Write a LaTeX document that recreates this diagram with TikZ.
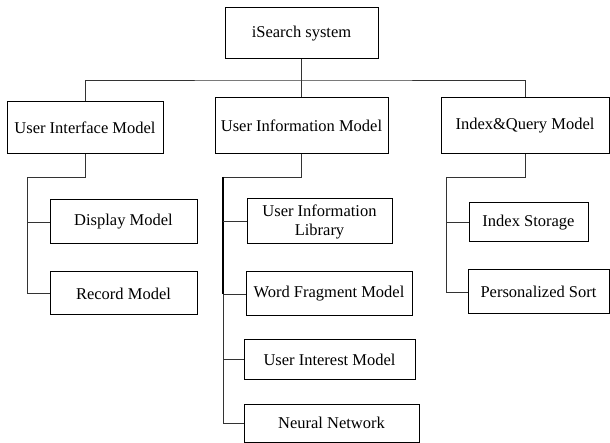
\documentclass[tikz,border=0pt]{standalone}
\usepackage{fontspec}
\setmainfont{Liberation Serif}
\begin{document}
\begin{tikzpicture}[x=1pt,y=-1pt,
  box/.style={draw=black,line width=1pt,inner sep=0pt,align=center,
    font=\fontsize{16.5}{19}\selectfont},
  link/.style={draw=black!80,line width=0.8pt},
  thicklink/.style={draw=black,line width=1.8pt}]
\useasboundingbox (0,0) rectangle (610,443);
% level 0
\node[box,minimum width=153pt,minimum height=51pt] (top) at (301.5,33.5) {iSearch system};
% level 1
\node[box,minimum width=156pt,minimum height=52pt] (ui) at (85,128) {User Interface Model};
\node[box,minimum width=173pt,minimum height=56pt] (uinfo) at (301.5,126) {User Information Model};
\node[box,minimum width=168pt,minimum height=56pt] (iq) at (525,126) {Index\&Query Model};
% level 2 - left
\node[box,minimum width=147pt,minimum height=44pt] (disp) at (123.5,222) {Display Model};
\node[box,minimum width=147pt,minimum height=43pt] (rec) at (123.5,293.5) {Record Model};
% level 2 - middle
\node[box,minimum width=145pt,minimum height=45pt] (uil) at (319.5,221.5) {User Information\\Library};
\node[box,minimum width=166pt,minimum height=44pt] (wf) at (329,294) {Word Fragment Model};
\node[box,minimum width=171pt,minimum height=39pt] (uim) at (329.5,359.5) {User Interest Model};
\node[box,minimum width=175pt,minimum height=38pt] (nn) at (331.5,423) {Neural Network};
% level 2 - right
\node[box,minimum width=119pt,minimum height=39pt] (is) at (528.5,222.5) {Index Storage};
\node[box,minimum width=141pt,minimum height=44pt] (ps) at (538.5,292) {Personalized Sort};
% junction points
\coordinate (bus) at (0,80);
\coordinate (uiL) at (27,177);
\coordinate (miL) at (223,177);
\coordinate (iqL) at (446,177);
% top level connectors
\draw[link] (ui.north) |- (bus -| top.south) -| (iq.north);
\draw[link] (top.south) -- (uinfo.north);
% left branch
\draw[link] (ui.south) |- (uiL) |- (rec.west);
\draw[link] (uiL |- disp.west) -- (disp.west);
% middle branch
\draw[link] (uinfo.south) |- (miL) |- (nn.west);
\draw[thicklink] (miL) -- (miL |- wf.west);
\draw[link] (miL |- uil.west) -- (uil.west);
\draw[link] (miL |- wf.west) -- (wf.west);
\draw[link] (miL |- uim.west) -- (uim.west);
% right branch
\draw[link] (iq.south) |- (iqL) |- (ps.west);
\draw[link] (iqL |- is.west) -- (is.west);
\end{tikzpicture}
\end{document}
